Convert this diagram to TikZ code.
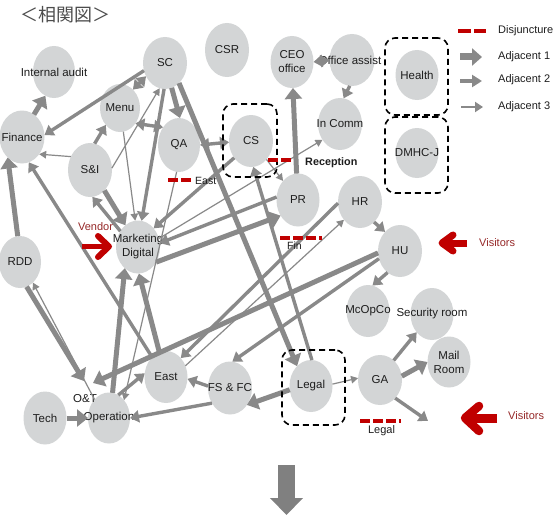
\documentclass[tikz,border=0pt]{standalone}
\usepackage{fontspec}
\setmainfont{Liberation Sans}
\newfontfamily\cjkfont{Noto Sans CJK JP}
\usetikzlibrary{shapes.geometric,arrows.meta}
\definecolor{nodegrey}{RGB}{211,213,214}
\definecolor{argrey}{RGB}{137,137,137}
\definecolor{redc}{RGB}{192,0,0}
\definecolor{vtext}{RGB}{150,40,40}
\definecolor{textdark}{RGB}{30,30,30}
\definecolor{bigarrow}{RGB}{128,128,128}
\tikzset{
  nd/.style={ellipse, fill=nodegrey, minimum width=44pt, minimum height=52pt, inner sep=0pt, outer sep=0pt},
  lbl/.style={font=\fontsize{11.5}{14}\selectfont, text=textdark, align=center, inner sep=0pt},
  small/.style={font=\fontsize{10.5}{12}\selectfont, text=textdark, inner sep=0pt},
  adjA/.style={draw=argrey, line width=5pt, -{Triangle[length=11pt,width=17pt]}},
  adjB/.style={draw=argrey, line width=3.4pt, -{Triangle[length=9pt,width=12pt]}},
  adjC/.style={draw=argrey, line width=1.2pt, -{Triangle[length=7pt,width=7.5pt]}},
  adjBB/.style={draw=argrey, line width=3.4pt, {Triangle[length=9pt,width=12pt]}-{Triangle[length=9pt,width=12pt]}},
  grpbox/.style={draw=black, dash pattern=on 6pt off 4pt, line width=1.6pt, rounded corners=10pt, inner sep=0pt},
  disj/.style={draw=redc, line width=3.5pt, dash pattern=on 10pt off 3pt},
  redshaft/.style={draw=redc},
  redchev/.style={draw=redc, line cap=round, line join=round},
}
\begin{document}
\begin{tikzpicture}[x=1pt,y=-1pt]
\fill[white] (0,0) rectangle (554,519);
\useasboundingbox (0,0) rectangle (554,519);

% title
\node[font=\cjkfont\fontsize{18}{20}\selectfont, text=black!70, inner sep=0pt] (title) at (65,15) {＜相関図＞};

% nodes
\node[nd, minimum width=42pt, label={[lbl]center:Internal audit}] (ia) at (54,72) {};
\node[nd, label={[lbl]center:SC}] (sc) at (165,63) {};
\node[nd, minimum height=54pt, label={[lbl]center:CSR}] (csr) at (227,50) {};
\node[nd, minimum width=43pt, label={[lbl]center:CEO\\office}] (ceo) at (292,62) {};
\node[nd, minimum width=45pt, label={[lbl]center:\hspace*{-4pt}Office assist}] (oa) at (352,60) {};
\node[nd, minimum width=43pt, minimum height=50pt, label={[lbl]center:Health}] (health) at (417,75) {};
\node[nd, minimum width=43pt, minimum height=50pt, label={[lbl]center:DMHC-J}] (dmhc) at (417,153) {};
\node[nd, label={[lbl]center:In Comm}] (incomm) at (340,124) {};
\node[nd, minimum width=40pt, minimum height=48pt, label={[lbl]center:Menu}] (menu) at (120,108) {};
\node[nd, minimum width=45pt, minimum height=53pt, label={[lbl]center:Finance}] (fin) at (22,137) {};
\node[nd, minimum width=42pt, minimum height=54pt, label={[lbl]center:QA}] (qa) at (179,145) {};
\node[nd, label={[lbl]center:CS}] (cs) at (251,141) {};
\node[nd, minimum height=54pt, label={[lbl]center:S\&I}] (si) at (90,170) {};
\node[nd, minimum height=53pt, label={[lbl]center:Marketing\\Digital}] (mkt) at (138,247) {};
\node[nd, minimum width=42pt, label={[lbl]center:RDD}] (rdd) at (20,262) {};
\node[nd, minimum width=43pt, minimum height=53pt, label={[lbl]center:PR}] (pr) at (298,200) {};
\node[nd, label={[lbl]center:HR}] (hr) at (360,202) {};
\node[nd, label={[lbl]center:HU}] (hu) at (400,251) {};
\node[nd, minimum width=43pt, label={[lbl]center:McOpCo}] (mcop) at (368,311) {};
\node[nd, minimum width=43pt, label={[lbl]center:Security room}] (sec) at (432,314) {};
\node[nd, minimum width=43pt, minimum height=51pt, label={[lbl]center:Mail\\Room}] (mail) at (449,362) {};
\node[nd, minimum height=50pt, label={[lbl]center:GA}] (ga) at (380,380) {};
\node[nd, minimum width=43pt, label={[lbl]center:Legal}] (legal) at (311,386) {};
\node[nd, minimum height=53pt, label={[lbl]center:FS \& FC}] (fsfc) at (230,388) {};
\node[nd, minimum width=43pt, label={[lbl]center:East}] (east) at (166,377) {};
\node[nd, minimum width=42pt, minimum height=51pt, label={[lbl]center:Operation}] (op) at (109,418) {};
\node[nd, minimum width=43pt, minimum height=53pt, label={[lbl]center:Tech}] (tech) at (45,418) {};

\node[lbl] (otlabel) at (85,399) {O\&T};

% free ends
\coordinate (otA) at (84,381);
\coordinate (otB) at (93,383);
\coordinate (gaend) at (428,421);

% connectors
\draw[adjA] (fin.62) -- (ia.250);
\draw[adjB] (sc.200) -- (fin.5);
\draw[adjBB] (menu.55) -- (sc.215);
\draw[adjA] (sc.-75) -- (qa.88);
\draw[adjBB] (menu.-45) -- (qa.132);
\draw[adjB] (si.80) -- (menu.230);
\draw[adjC] (si.145) -- (fin.-45);
\draw[adjA] (si.-55) -- (mkt.120);
\draw[adjB] (mkt.138) -- (si.-85);
\draw[adjC] (menu.-82) -- (mkt.96);
\draw[adjB] (sc.-92) -- (mkt.82);
\draw[adjC] (si.5) -- (sc.-102);
\draw[adjBB] (qa.0) -- (cs.183);
\draw[adjB] (cs.225) -- (mkt.50);
\draw[adjC] (cs.-50) -- (pr.128);
\draw[adjC] (mkt.22) -- (incomm.222);
\draw[adjA] (mkt.-40) -- (pr.222);
\draw[adjB] (pr.172) -- (mkt.10);
\draw[adjA] (pr.93) -- (ceo.-88);
\draw[adjBB] (ceo.0) -- (oa.180);
\draw[adjB] (oa.-95) -- (incomm.82);
\draw[adjA] (sc.-55) -- (legal.125);
\draw[adjB] (legal.88) -- (cs.-85);
\draw[adjC] (qa.-95) -- (op.50);
\draw[adjA] (rdd.95) -- (fin.235);
\draw[adjB] (east.125) -- (fin.-75);
\draw[adjA] (rdd.-75) -- (otA);
\draw[adjC] (op.128) -- (rdd.-58);
\draw[adjA] (op.82) -- (mkt.238);
\draw[adjA] (east.105) -- (mkt.-88);
\draw[adjB] (op.68) -- (east.170);
\draw[adjA] (tech.0) -- (op.180);
\draw[adjB] (fsfc.220) -- (op.0);
\draw[adjA] (legal.190) -- (fsfc.-45);
\draw[adjB] (fsfc.175) -- (east.-5);
\draw[adjC] (east.30) -- (hr.228);
\draw[adjB] (hr.183) -- (east.52);
\draw[adjB] (hu.200) -- (fsfc.85);
\draw[adjA] (hu.185) -- (otB);
\draw[adjB] (hr.-55) -- (hu.128);
\draw[adjB] (hu.240) -- (mcop.80);
\draw[adjC] (legal.5) -- (ga.175);
\draw[adjB] (ga.55) -- (sec.230);
\draw[adjA] (ga.10) -- (mail.180);
\draw[adjB] (ga.-50) -- (gaend);

% dashed group boxes
\node[grpbox, minimum width=54pt, minimum height=73pt] (csbox) at (250,140.5) {};
\node[grpbox, minimum width=63pt, minimum height=77pt] (healthbox) at (416.5,76.5) {};
\node[grpbox, minimum width=63pt, minimum height=76pt] (dmhcbox) at (416.5,155) {};
\node[grpbox, minimum width=63pt, minimum height=75pt] (legalbox) at (313.5,387.5) {};

% disjunctures
\draw[disj] (168,180) -- (193,180);
\node[small, anchor=west] (eastlbl) at (195,181) {East};
\draw[disj] (268,160) -- (294,160);
\node[lbl, font=\bfseries\fontsize{10.8}{13}\selectfont, anchor=west] (reclbl) at (305,163) {Reception};
\draw[disj] (280,238) -- (322,238);
\node[small, anchor=west] (finlbl) at (287,246) {Fin};
\draw[disj] (360,421) -- (401,421);
\node[lbl, font=\fontsize{11}{13}\selectfont] (legallbl) at (381.5,431) {Legal};

% red arrows
\node[font=\fontsize{11}{13}\selectfont, text=vtext, inner sep=0pt] (vendor) at (95.5,227) {Vendor};
\draw[redshaft, line width=5.5pt] (82,246.5) -- (106,246.5);
\draw[redchev, line width=6pt] (98,236) -- (109,246.5) -- (98,257);
\node[font=\fontsize{11}{13}\selectfont, text=vtext, inner sep=0pt, anchor=west] (vis1) at (479,243) {Visitors};
\draw[redshaft, line width=7pt] (467,243) -- (444,243);
\draw[redchev, line width=7pt] (453,235) -- (442,243) -- (453,251);
\node[font=\fontsize{11}{13}\selectfont, text=vtext, inner sep=0pt, anchor=west] (vis2) at (508,416) {Visitors};
\draw[redshaft, line width=9pt] (497,418) -- (467,418);
\draw[redchev, line width=8.5pt] (479,406) -- (465,418) -- (479,431);

% legend
\draw[disj, dash pattern=on 13pt off 3pt] (458,31) -- (486,31);
\node[lbl, font=\fontsize{11}{13}\selectfont, anchor=west] (lg0) at (498,31) {Disjuncture};
\coordinate (l1a) at (460,57); \coordinate (l1b) at (482,57);
\draw[draw=argrey, line width=7pt, -{Triangle[length=10pt,width=17pt]}] (l1a) -- (l1b);
\node[lbl, font=\fontsize{11}{13}\selectfont, anchor=west] (lg1) at (498,57) {Adjacent 1};
\coordinate (l2a) at (460,81); \coordinate (l2b) at (482,81);
\draw[draw=argrey, line width=4.5pt, -{Triangle[length=10pt,width=12pt]}] (l2a) -- (l2b);
\node[lbl, font=\fontsize{11}{13}\selectfont, anchor=west] (lg2) at (498,80) {Adjacent 2};
\coordinate (l3a) at (461,107); \coordinate (l3b) at (483,107);
\draw[draw=argrey, line width=2.3pt, -{Triangle[length=8pt,width=10pt]}] (l3a) -- (l3b);
\node[lbl, font=\fontsize{11}{13}\selectfont, anchor=west] (lg3) at (498,107) {Adjacent 3};

% big down arrow
\coordinate (dna) at (286.5,465); \coordinate (dnb) at (286.5,515);
\draw[draw=bigarrow, line width=17pt, -{Triangle[length=17pt,width=32pt]}] (dna) -- (dnb);
\end{tikzpicture}
\end{document}
